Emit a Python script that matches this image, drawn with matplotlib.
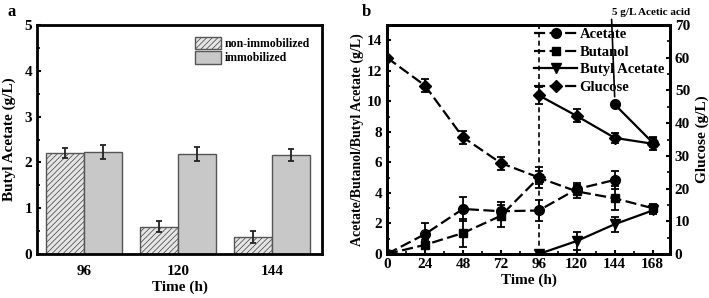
import matplotlib
matplotlib.use("Agg")
import matplotlib.pyplot as plt
from matplotlib.lines import Line2D
import numpy as np

plt.rcParams['font.family'] = ['Liberation Serif', 'DejaVu Serif']
plt.rcParams['font.weight'] = 'bold'
plt.rcParams['hatch.linewidth'] = 0.6
plt.rcParams['hatch.color'] = '#555555'

# Panel a data
groups = ['96', '120', '144']
non_imm = [2.20, 0.60, 0.37]
non_imm_err = [0.11, 0.12, 0.13]
imm = [2.22, 2.18, 2.16]
imm_err = [0.15, 0.15, 0.13]

# Panel b data
t_acetate = [0, 24, 48, 72, 96, 120, 144]
acetate = [0.0, 1.3, 2.95, 2.8, 2.85, 4.25, 4.85]
acetate_err = [0.0, 0.7, 0.8, 0.6, 0.7, 0.4, 0.6]
t_acetate2 = [144, 168]
acetate2 = [9.8, 7.3]
acetate2_err = [0.0, 0.3]

t_butanol = [0, 24, 48, 72, 96, 120, 144, 168]
butanol = [0.0, 0.6, 1.37, 2.5, 5.0, 4.1, 3.65, 3.0]
butanol_err = [0.0, 0.3, 0.9, 0.7, 0.7, 0.4, 0.8, 0.3]

t_ba = [96, 120, 144, 168]
butyl_acetate = [0.0, 0.85, 1.95, 2.85]
butyl_acetate_err = [0.0, 0.6, 0.5, 0.2]

t_glu1 = [0, 24, 48, 72, 96]
glucose1 = [60.0, 51.5, 35.7, 27.8, 23.4]
glucose1_err = [0.0, 2.0, 2.0, 2.0, 2.0]
t_glu2 = [96, 120, 144, 168]
glucose2 = [48.5, 42.2, 35.5, 33.7]
glucose2_err = [2.5, 2.0, 1.5, 2.0]

fig = plt.figure(figsize=(7.09, 2.98), dpi=100)

# ---------- Panel a ----------
axa = fig.add_axes([37/709, 1-254/298, 285/709, 229/298])
x = np.arange(len(groups))
w = 0.404
ekw_a = dict(elinewidth=1.3, capthick=1.3, ecolor='#222222')
axa.bar(x - w/2, non_imm, w, yerr=non_imm_err, color='#e6e6e6', edgecolor='#555555',
        hatch='//////', linewidth=1.0, capsize=2.5, error_kw=ekw_a,
        label='non-immobilized')
axa.bar(x + w/2, imm, w, yerr=imm_err, color='#c8c8c8', edgecolor='#555555',
        linewidth=1.0, capsize=2.5, error_kw=ekw_a,
        label='immobilized')
axa.set_xlim(-0.5, 2.53)
axa.set_ylim(0, 5)
axa.set_xticks(x)
axa.set_xticklabels(groups)
axa.set_yticks(range(0, 6))
axa.set_yticks(np.arange(0.5, 5, 1.0), minor=True)
axa.tick_params(axis='both', which='major', direction='in', length=3, width=1.5, labelsize=11)
axa.tick_params(axis='y', which='minor', direction='in', length=2, width=1.2)
axa.tick_params(axis='x', length=0, pad=8)
for s in axa.spines.values():
    s.set_linewidth(2)
axa.set_ylabel('Butyl Acetate (g/L)', fontsize=11, fontweight='bold', labelpad=6)
axa.set_xlabel('Time (h)', fontsize=11, fontweight='bold', labelpad=2)
axa.legend(loc='upper right', bbox_to_anchor=(1.0, 1.0), frameon=False, fontsize=8.5,
           handlelength=2.2, handleheight=1.25, labelspacing=0.1, borderaxespad=0.6,
           handletextpad=0.3)
fig.text(8/709, 1-12/298, 'a', fontsize=12, fontweight='bold', va='center', ha='left')

# ---------- Panel b ----------
axb = fig.add_axes([387/709, 1-254/298, 283/709, 229/298])
axr = axb.twinx()
ms = 7
ekw = dict(elinewidth=1.3, capthick=1.3, capsize=3)
dash = (0, (5, 2))
axb.errorbar(t_acetate, acetate, yerr=acetate_err, color='black', marker='o', ms=ms,
             linestyle=dash, lw=1.6, **ekw)
axb.errorbar(t_acetate2, acetate2, yerr=acetate2_err, color='black', marker='o', ms=ms,
             linestyle='-', lw=1.6, **ekw)
axb.errorbar(t_butanol, butanol, yerr=butanol_err, color='black', marker='s', ms=ms-0.8,
             linestyle=dash, lw=1.6, **ekw)
axb.errorbar(t_ba, butyl_acetate, yerr=butyl_acetate_err, color='black', marker='v', ms=ms,
             linestyle='-', lw=1.6, **ekw)
axr.errorbar(t_glu1, glucose1, yerr=glucose1_err, color='black', marker='D', ms=ms-0.8,
             linestyle=dash, lw=1.6, **ekw)
axr.errorbar(t_glu2, glucose2, yerr=glucose2_err, color='black', marker='D', ms=ms-0.8,
             linestyle='-', lw=1.6, **ekw)

axb.axvline(96, color='black', linestyle=(0, (3, 2)), lw=1.2)

axb.set_xlim(0, 179)
axb.set_ylim(0, 15)
axr.set_ylim(0, 70)
axb.set_xticks([0, 24, 48, 72, 96, 120, 144, 168])
axb.set_xticks([12, 36, 60, 84, 108, 132, 156], minor=True)
axb.set_yticks(range(0, 15, 2))
axb.set_yticks(range(1, 15, 2), minor=True)
axr.set_yticks(range(0, 71, 10))
axr.set_yticks(range(5, 70, 10), minor=True)
for a in (axb, axr):
    a.tick_params(axis='both', which='major', direction='in', length=3, width=1.5, labelsize=11)
    a.tick_params(axis='both', which='minor', direction='in', length=2, width=1.2)
    for s in a.spines.values():
        s.set_linewidth(2)
axb.tick_params(axis='x', pad=3)
axb.set_ylabel('Acetate/Butanol/Butyl Acetate (g/L)', fontsize=10, fontweight='bold', labelpad=2)
axr.set_ylabel('Glucose (g/L)', fontsize=11, fontweight='bold', labelpad=4)
axb.set_xlabel('Time (h)', fontsize=11, fontweight='bold', labelpad=2)

handles = [
    Line2D([], [], color='black', marker='o', ms=ms, linestyle=dash, lw=1.6),
    Line2D([], [], color='black', marker='s', ms=ms-0.8, linestyle=dash, lw=1.6),
    Line2D([], [], color='black', marker='v', ms=ms, linestyle='-', lw=1.6),
    Line2D([], [], color='black', marker='D', ms=ms-0.8, linestyle=dash, lw=1.6),
]
labels = ['Acetate', 'Butanol', 'Butyl Acetate', 'Glucose']
axb.legend(handles, labels, loc='upper right', bbox_to_anchor=(1.01, 1.025), frameon=False,
           fontsize=10.5, handlelength=2.9, labelspacing=0.3, borderaxespad=0.2,
           handletextpad=0.2)

axb.annotate('5 g/L Acetic acid', xy=(144, 10.3), xytext=(142, 15.55),
             textcoords='data', fontsize=8, fontweight='bold', ha='left', va='bottom',
             annotation_clip=False,
             arrowprops=dict(arrowstyle='-', color='black', lw=1.2, shrinkA=0, shrinkB=0,
                             relpos=(0.0, 0.0)))
fig.text(362/709, 1-12/298, 'b', fontsize=12, fontweight='bold', va='center', ha='left')

fig.savefig('out.png', dpi=100)
